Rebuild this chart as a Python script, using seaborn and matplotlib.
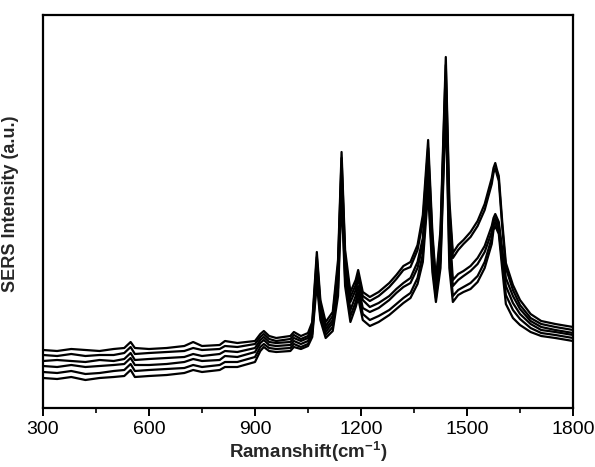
import pandas as pd
import matplotlib
matplotlib.use("Agg")
import matplotlib.pyplot as plt
import seaborn as sns
from matplotlib.ticker import MultipleLocator

sns.set_theme(style="white")
plt.rcParams['font.family'] = ['Liberation Sans Narrow', 'Liberation Sans', 'DejaVu Sans']
plt.rcParams['mathtext.fontset'] = 'custom'
plt.rcParams['mathtext.rm'] = 'Liberation Sans'
plt.rcParams['mathtext.bf'] = 'Liberation Sans:bold'

# Raman shift (cm-1)
wavenumber = [300, 340, 380, 420, 460, 500, 530, 548, 560, 600, 650, 700, 725, 750,
              800, 815, 850, 900, 915, 925, 940, 960, 1000, 1010, 1030, 1050, 1062,
              1075, 1085, 1100, 1120, 1135, 1145, 1155, 1170, 1185, 1192, 1205, 1225,
              1250, 1280, 1300, 1320, 1340, 1360, 1375, 1390, 1402, 1412, 1425, 1440,
              1450, 1460, 1475, 1490, 1510, 1530, 1550, 1570, 1575, 1580, 1585, 1590,
              1600, 1610, 1630, 1650, 1680, 1710, 1750, 1800]

# SERS intensity (a.u.) of six spectra
spec1 = [58, 57, 59, 58, 57, 59, 60, 66, 60, 59, 60, 62, 66, 62, 63, 67, 65, 67, 74, 77,
         72, 70, 72, 76, 72, 75, 86, 156, 108, 86, 96, 148, 256, 158, 116, 128, 138, 116,
         111, 116, 125, 133, 142, 146, 163, 193, 268, 176, 128, 178, 351, 208, 155, 163,
         168, 176, 187, 204, 230, 240, 245, 238, 232, 185, 145, 123, 108, 94, 87, 84, 81]
spec2 = [53, 52, 54, 52, 53, 53, 55, 61, 54, 55, 56, 57, 60, 58, 59, 62, 61, 64, 71, 74,
         69, 67, 69, 73, 69, 72, 83, 151, 104, 82, 92, 142, 250, 152, 111, 123, 134, 112,
         107, 112, 121, 129, 138, 141, 158, 186, 260, 170, 124, 172, 343, 198, 150, 158,
         164, 171, 182, 198, 224, 235, 240, 233, 227, 180, 140, 118, 103, 90, 84, 81, 78]
spec3 = [47, 48, 47, 46, 48, 47, 49, 55, 48, 49, 50, 51, 54, 52, 54, 57, 56, 60, 68, 71,
         66, 65, 66, 70, 67, 70, 80, 145, 100, 79, 88, 136, 242, 146, 106, 118, 129, 108,
         101, 105, 112, 119, 125, 130, 146, 170, 248, 160, 118, 164, 332, 183, 128, 134,
         137, 142, 150, 162, 182, 190, 194, 190, 186, 158, 130, 112, 99, 87, 81, 78, 75]
spec4 = [42, 41, 43, 41, 42, 43, 44, 50, 43, 43, 44, 46, 49, 47, 48, 52, 51, 56, 65, 68,
         63, 62, 63, 67, 64, 67, 77, 139, 96, 76, 85, 128, 232, 138, 98, 112, 122, 100,
         96, 100, 108, 115, 121, 125, 140, 163, 238, 152, 114, 156, 322, 168, 122, 128,
         132, 137, 144, 156, 176, 186, 190, 186, 182, 152, 122, 105, 94, 84, 78, 76, 73]
spec5 = [36, 35, 37, 34, 35, 37, 38, 44, 37, 38, 39, 40, 43, 41, 43, 46, 46, 51, 61, 64,
         60, 59, 60, 64, 61, 64, 74, 132, 92, 73, 81, 120, 222, 130, 92, 106, 116, 94,
         88, 92, 98, 104, 110, 115, 130, 154, 226, 144, 110, 148, 312, 153, 112, 118,
         121, 125, 132, 146, 170, 182, 186, 182, 178, 145, 113, 98, 89, 80, 75, 73, 70]
spec6 = [30, 29, 31, 28, 30, 31, 32, 38, 31, 32, 33, 35, 38, 36, 38, 41, 41, 46, 57, 61,
         57, 56, 57, 61, 59, 62, 71, 125, 88, 70, 77, 112, 212, 122, 86, 101, 110, 88,
         82, 86, 93, 99, 105, 110, 124, 146, 216, 136, 106, 140, 302, 140, 106, 113,
         116, 119, 126, 140, 164, 178, 182, 178, 174, 138, 104, 90, 83, 76, 72, 70, 67]

spectra = [spec1, spec2, spec3, spec4, spec5, spec6]
rows = []
for i, s in enumerate(spectra):
    for w, v in zip(wavenumber, s):
        rows.append({'shift': w, 'intensity': v, 'spectrum': i})
df = pd.DataFrame(rows)

fig = plt.figure(figsize=(5.95, 4.67), dpi=100)
ax = fig.add_axes([43 / 595, 59 / 467, 530 / 595, 393 / 467])

sns.lineplot(data=df, x='shift', y='intensity', units='spectrum', estimator=None,
             color='black', linewidth=1.6, ax=ax)

ax.set_xlim(300, 1800)
ax.set_ylim(0, 393)
ax.xaxis.set_major_locator(MultipleLocator(300))
ax.xaxis.set_minor_locator(MultipleLocator(150))
ax.set_yticks([])

for sp in ax.spines.values():
    sp.set_visible(True)
    sp.set_color('black')
    sp.set_linewidth(1.6)

ax.tick_params(axis='x', which='major', direction='out', length=6, width=1.4,
               bottom=True, top=False, labelsize=14, colors='black', pad=3)
ax.tick_params(axis='x', which='minor', direction='out', length=3.5, width=1.4,
               bottom=True, top=False)

ax.set_xlabel(r'Ramanshift(cm$^{\mathbf{-1}}$)', fontsize=13.5, fontweight='bold',
              family=['Liberation Sans', 'DejaVu Sans'], labelpad=1)
ax.set_ylabel('SERS Intensity (a.u.)', fontsize=13, fontweight='bold',
              family=['Liberation Sans', 'DejaVu Sans'])
ax.yaxis.set_label_coords(-0.045, 0.52)

fig.savefig('out.png', dpi=100)
